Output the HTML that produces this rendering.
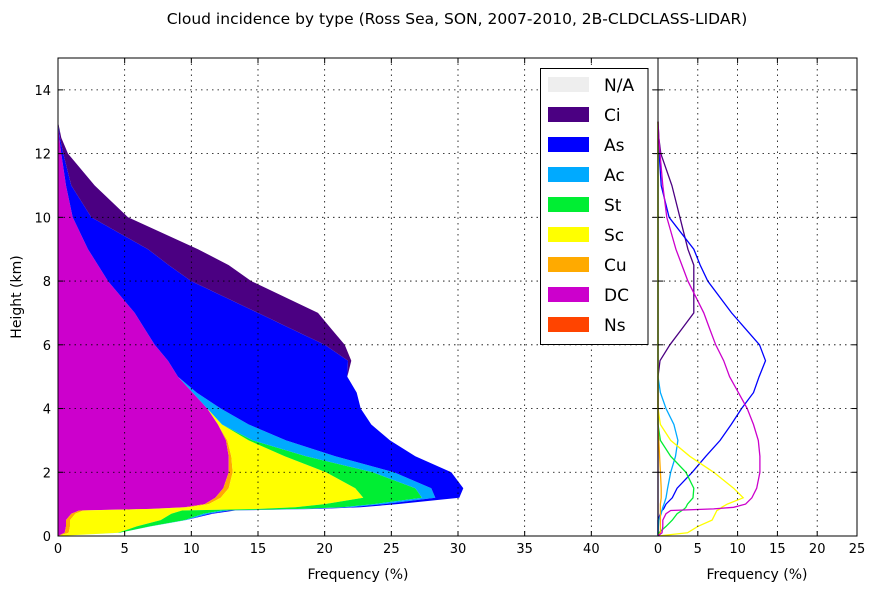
<!DOCTYPE html>
<html><head><meta charset="utf-8"><style>
body{margin:0;background:#fff}
svg text{font-family:"DejaVu Sans","Liberation Sans",sans-serif;fill:#000}
</style></head><body>
<svg id="chart" width="877" height="592" viewBox="0 0 877 592" xmlns="http://www.w3.org/2000/svg">
<text x="457" y="24" font-size="15.5" text-anchor="middle">Cloud incidence by type (Ross Sea, SON, 2007-2010, 2B-CLDCLASS-LIDAR)</text>
<g id="left"></g>
<g id="right"></g>
<text transform="translate(21,297) rotate(-90)" font-size="14" text-anchor="middle">Height (km)</text>
<text x="358" y="579" font-size="14" text-anchor="middle">Frequency (%)</text>
<text x="757" y="579" font-size="14" text-anchor="middle">Frequency (%)</text>
<g id="legend"></g>
</svg>
<script>
const heights=[0,0.1,0.3,0.5,0.7,0.8,0.85,0.9,1.0,1.2,1.5,2,2.5,3,3.5,4,4.5,5,5.5,6,6.5,7,8,8.5,9,10,11,12,12.5,13];
const DC=[0,0.5,0.6,0.6,1,1.6,7,9.5,11,11.8,12.4,12.8,12.8,12.6,12,11.2,10.1,9,8.25,7.25,6.5,5.75,3.75,3,2.25,1.1,0.6,0.25,0.1,0];
const Ns=[0,0,0,0,0,0,0,0,0,0,0,0,0,0,0,0,0,0,0,0,0,0,0,0,0,0,0,0,0,0];
const Cu=[0,0.3,0.3,0.3,0.3,0.3,0.3,0.3,0.3,0.4,0.4,0.3,0.2,0.1,0,0,0,0,0,0,0,0,0,0,0,0,0,0,0,0];
const Sc=[0,3.7,5,6.8,7.2,7.4,7.8,8,8.7,10.7,9.5,7,4,1.6,0.3,0,0,0,0,0,0,0,0,0,0,0,0,0,0,0];
const St=[0,0.1,1,1.8,2.4,3,3.3,3.5,3.7,4.4,4.5,3.5,1.6,0.3,0,0,0,0,0,0,0,0,0,0,0,0,0,0,0,0];
const Ac=[0,0,0.05,0.1,0.4,0.5,0.55,0.6,0.75,1,1.2,1.6,2.2,2.5,2,1,0.3,0,0,0,0,0,0,0,0,0,0,0,0,0];
const As=[0,0,0,0,0.3,0.5,0.7,0.8,1,1.8,2.4,4.3,6,7.8,9.2,10.5,12,12.7,13.5,12.75,11,9.25,6.25,5.3,4.5,1.4,0.4,0.15,0.05,0];
const Ci=[0,0,0,0,0,0,0,0,0,0,0,0,0,0,0,0,0,0,0.25,1.5,3,4.5,4.5,4.5,3.75,2.75,1.75,0.35,0.1,0];
const leftTicks=[0,5,10,15,20,25,30,35,40];
const rightTicks=[0,5,10,15,20,25];
const yTicks=[0,2,4,6,8,10,12,14];
const legendLabels=["N/A","Ci","As","Ac","St","Sc","Cu","DC","Ns"];
const legendColors=["#eeeeee","#4b0082","#0000ff","#00aaff","#00ee33","#ffff00","#ffaa00","#cc00cc","#ff4400"];

const NS="http://www.w3.org/2000/svg";
const T=58,B=536,yMax=15;
const y=v=>B-(v/yMax)*(B-T);
const L0=58,L1=658,xL=v=>L0+v/45*(L1-L0);
const R0=658,R1=857,xR=v=>R0+v/25*(R1-R0);
function mk(tag,attrs,parent){const e=document.createElementNS(NS,tag);for(const k in attrs)e.setAttribute(k,attrs[k]);parent.appendChild(e);return e;}
const left=document.getElementById('left'),right=document.getElementById('right');

const stack=[[DC,"#cc00cc","area-dc"],[Ns,"#ff4400","area-ns"],[Cu,"#ffaa00","area-cu"],[Sc,"#ffff00","area-sc"],[St,"#00ee33","area-st"],[Ac,"#00aaff","area-ac"],[As,"#0000ff","area-as"],[Ci,"#4b0082","area-ci"]];
let base=heights.map(()=>0);
stack.forEach(([s,c,n])=>{
  const top=base.map((b,i)=>b+s[i]);
  let d="";
  heights.forEach((h,i)=>{d+=(i?"L":"M")+xL(top[i]).toFixed(1)+","+y(h).toFixed(1);});
  for(let i=heights.length-1;i>=0;i--)d+="L"+xL(base[i]).toFixed(1)+","+y(heights[i]).toFixed(1);
  const p=mk('path',{d:d+"Z",fill:c,stroke:"none"},left);
  
  
  base=top;
});
const lines=[[Ci,"#4b0082","line-ci"],[As,"#0000ff","line-as"],[Ac,"#00aaff","line-ac"],[St,"#00ee33","line-st"],[Sc,"#ffff00","line-sc"],[Cu,"#ffaa00","line-cu"],[DC,"#cc00cc","line-dc"]];
lines.forEach(([s,c,n])=>{
  let d="";heights.forEach((h,i)=>{d+=(i?"L":"M")+xR(s[i]).toFixed(1)+","+y(h).toFixed(1);});
  const p=mk('path',{d:d,fill:"none",stroke:c,"stroke-width":1.3},right);
  
  
});
function panel(g,x0,x1,ticks,fx,showY){
  ticks.forEach(t=>{const X=fx(t);
    if(t>0){const l=mk('line',{x1:X,x2:X,y1:T,y2:B,stroke:"#000","stroke-width":0.8,"stroke-dasharray":"1.5,4"},g);}
    mk('line',{x1:X,x2:X,y1:B,y2:B-5,stroke:"#000"},g);mk('line',{x1:X,x2:X,y1:T,y2:T+5,stroke:"#000"},g);
    const tx=mk('text',{x:X,y:B+17,"font-size":13,"text-anchor":"middle"},g);tx.textContent=t;
    
  });
  yTicks.forEach(t=>{const Y=y(t);
    if(t>0){const l=mk('line',{x1:x0,x2:x1,y1:Y,y2:Y,stroke:"#000","stroke-width":0.8,"stroke-dasharray":"1.5,4"},g);}
    mk('line',{x1:x0,x2:x0+5,y1:Y,y2:Y,stroke:"#000"},g);mk('line',{x1:x1,x2:x1-5,y1:Y,y2:Y,stroke:"#000"},g);
    if(showY){const tx=mk('text',{x:x0-7,y:Y+5,"font-size":13,"text-anchor":"end"},g);tx.textContent=t;
      }
  });
  const f=mk('rect',{x:x0,y:T,width:x1-x0,height:B-T,fill:"none",stroke:"#000","stroke-width":1},g);
  
}
panel(left,L0,L1,leftTicks,xL,true);
panel(right,R0,R1,rightTicks,xR,false);
const lg=document.getElementById('legend');
const box=mk('rect',{x:540.5,y:68.5,width:107.5,height:276,fill:"#fff",stroke:"#000","stroke-width":1},lg);

legendLabels.forEach((lab,i)=>{
  const Y=77+i*30;
  const r=mk('rect',{x:548,y:Y,width:41,height:15,fill:legendColors[i]},lg);
  
  
  const t=mk('text',{x:604,y:Y+14,"font-size":17},lg);t.textContent=lab;
  
  
});
</script>
</body></html>
